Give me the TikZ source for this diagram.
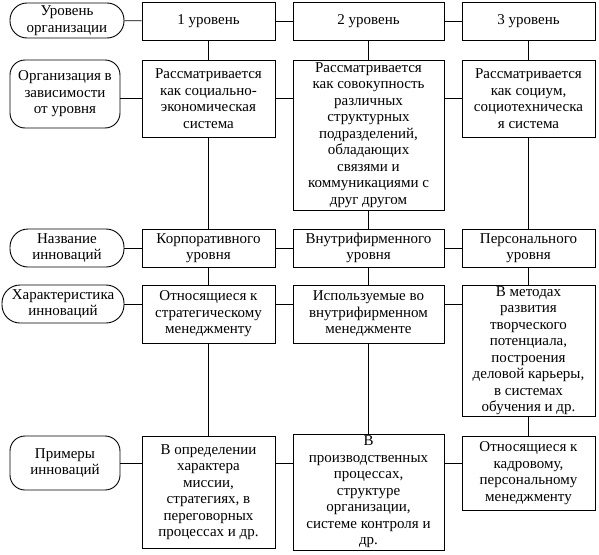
\documentclass[tikz,border=0pt]{standalone}
\usepackage{fontspec}
\setmainfont{Liberation Serif}
\usetikzlibrary{calc}

\begin{document}
\begin{tikzpicture}[x=1pt,y=-1pt,
  caja/.style={draw,rectangle,line width=0.9pt,align=center,inner sep=1pt,
    font=\fontsize{15}{16.5}\selectfont},
  etiq/.style={caja,rounded corners=#1},
  sz/.style 2 args={minimum width=#1pt,minimum height=#2pt},
  con/.style={line width=0.9pt}]

  \useasboundingbox (0,0) rectangle (599,554);

  \pgfmathsetmacro{\colA}{208.5}
  \pgfmathsetmacro{\colB}{368.5}
  \pgfmathsetmacro{\colC}{528.5}

  % etiquetas de la izquierda
  \node[etiq=17,sz={114}{35}] (l1) at (67,20.5) {Уровень\\организации};
  \node[etiq=15,sz={110}{68}] (l2) at (65,94) {Организация в\\зависимости\\от уровня};
  \node[etiq=18,sz={114}{38}] (l3) at (67,248) {Название\\инноваций};
  \node[etiq=18,sz={122}{38}] (l4) at (63,304) {Характеристика\\инноваций};
  \node[etiq=15,sz={110}{54}] (l5) at (65,463) {Примеры\\инноваций};

  % niveles
  \node[caja,sz={133}{38}] (h1) at (\colA,21) {1 уровень};
  \node[caja,sz={151}{38}] (h2) at (\colB,21) {2 уровень};
  \node[caja,sz={133}{38}] (h3) at (\colC,21) {3 уровень};

  \node[caja,sz={133}{77}] (o1) at (\colA,98.5) {Рассматривается\\как социально-\\экономическая\\система};
  \node[caja,sz={151}{150}] (o2) at (\colB,135) {Рассматривается\\как совокупность\\различных\\структурных\\подразделений,\\обладающих\\связями и\\коммуникациями с\\друг другом};
  \node[caja,sz={133}{77}] (o3) at (\colC,98.5) {Рассматривается\\как социум,\\социотехническа\\я система};

  \node[caja,sz={133}{38}] (n1) at (\colA,248) {Корпоративного\\уровня};
  \node[caja,sz={151}{38}] (n2) at (\colB,248) {Внутрифирменного\\уровня};
  \node[caja,sz={133}{38}] (n3) at (\colC,248) {Персонального\\уровня};

  \node[caja,sz={133}{58}] (c1) at (\colA,314) {Относящиеся к\\стратегическому\\менеджменту};
  \node[caja,sz={151}{58}] (c2) at (\colB,314) {Используемые во\\внутрифирменном\\менеджменте};
  \node[caja,sz={133}{131}] (c3) at (\colC,350.5) {В методах\\развития\\творческого\\потенциала,\\построения\\деловой карьеры,\\в системах\\обучения и др.};

  \node[caja,sz={133}{112}] (p1) at (\colA,492) {В определении\\характера\\миссии,\\стратегиях, в\\переговорных\\процессах и др.};
  \node[caja,sz={151}{116}] (p2) at (\colB,492) {В\\производственных\\процессах,\\структуре\\организации,\\системе контроля и\\др.};
  \node[caja,sz={133}{74}] (p3) at (\colC,473) {Относящиеся к\\кадровому,\\персональному\\менеджменту};

  % verticales
  \foreach \c in {1,2,3} {
    \draw[con] (h\c) -- (o\c);
    \draw[con] (o\c) -- (n\c);
    \draw[con] (n\c) -- (c\c);
    \draw[con] (c\c) -- (p\c);
  }

  % horizontales
  \draw[con] (l1) -- (h1);
  \draw[con] (h1) -- (h2);
  \draw[con] (h2) -- (h3);

  \draw[con] (o1 -| l2.east) -- (o1);
  \draw[con] (o1) -- (o1 -| o2.west);
  \draw[con] (o3 -| o2.east) -- (o3);

  \draw[con] (l3) -- (n1);
  \draw[con] (n1) -- (n2);
  \draw[con] (n2) -- (n3);

  \draw[con] (l4) -- (l4 -| c1.west);
  \draw[con] (l4 -| c1.east) -- (l4 -| c2.west);
  \draw[con] (l4 -| c2.east) -- (l4 -| c3.west);

  \draw[con] (l5) -- (l5 -| p1.west);
  \draw[con] (l5 -| p1.east) -- (l5 -| p2.west);
  \draw[con] (l5 -| p2.east) -- (l5 -| p3.west);
\end{tikzpicture}
\end{document}
